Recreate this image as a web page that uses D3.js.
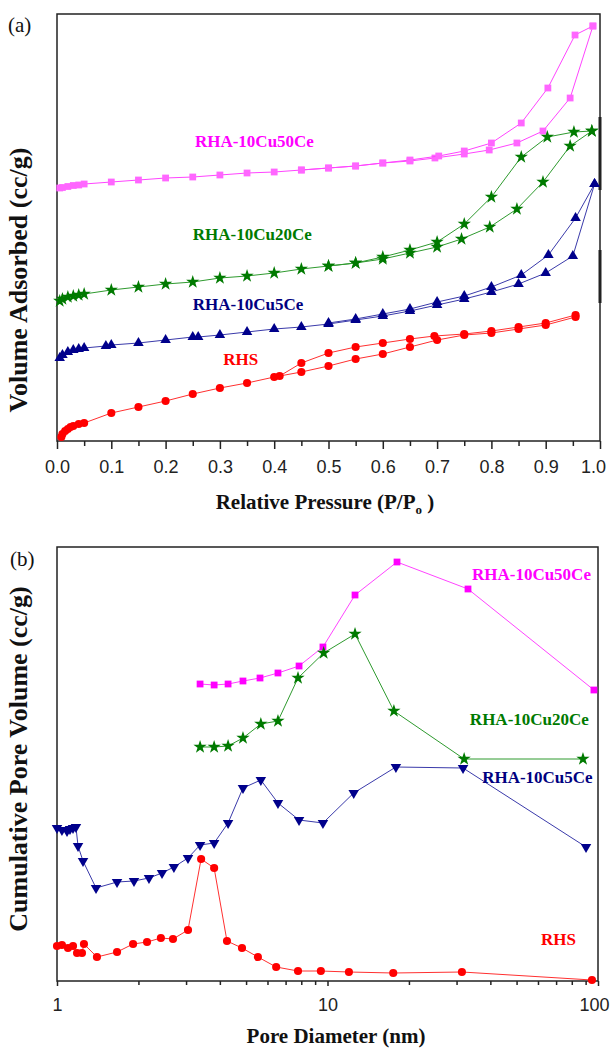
<!DOCTYPE html>
<html>
<head>
<meta charset="utf-8">
<script src="https://cdn.jsdelivr.net/npm/d3@7"></script>
<style>
    body { margin: 0; background: #fff; }
    text { font-family: "Liberation Serif", "Times New Roman", serif; }
    .tick text { font-family: "Liberation Sans", Arial, sans-serif; font-size: 18px; fill: #222; }
</style>
</head>
<body>
<div id="chart"></div>
<script>
// ---- panel (a): N2 isotherms, arbitrary offset units (no y ticks in the original) ----
let pAds50 = [0.005, 0.01, 0.02, 0.03, 0.04, 0.05, 0.1, 0.15, 0.2, 0.25, 0.3, 0.35, 0.4, 0.45, 0.5, 0.55, 0.6, 0.65, 0.696, 0.75, 0.796, 0.847, 0.895, 0.945, 0.987];
let vAds50 = [253, 253.5, 254.5, 255.5, 256, 257, 259, 261, 263, 264, 266, 268, 269, 271, 273, 275, 278, 280, 283, 287, 291, 298, 310, 343, 415];
let pDes50 = [0.987, 0.954, 0.904, 0.855, 0.80, 0.75, 0.703, 0.65, 0.6, 0.55, 0.5, 0.45];
let vDes50 = [415, 406, 353, 318, 298, 290, 285, 281, 278, 275, 273, 271];

let pAds20 = [0.005, 0.01, 0.02, 0.03, 0.04, 0.05, 0.1, 0.15, 0.2, 0.25, 0.3, 0.35, 0.4, 0.45, 0.5, 0.55, 0.6, 0.65, 0.7, 0.745, 0.797, 0.847, 0.895, 0.945, 0.985];
let vAds20 = [140, 142, 144, 145, 146, 147, 151, 154, 157, 159, 163, 165, 168, 172, 175, 178, 182, 188, 194, 202, 214, 232, 259, 295, 310];
let pDes20 = [0.985, 0.952, 0.903, 0.855, 0.80, 0.75, 0.70, 0.65, 0.6, 0.55, 0.5];
let vDes20 = [310, 309, 304, 284, 244, 217, 199, 191, 184, 178, 175];

let pAds5 = [0.005, 0.01, 0.02, 0.03, 0.04, 0.05, 0.09, 0.1, 0.15, 0.2, 0.25, 0.26, 0.3, 0.35, 0.4, 0.45, 0.5, 0.55, 0.6, 0.65, 0.7, 0.75, 0.8, 0.85, 0.9, 0.95, 0.99];
let vAds5 = [83, 86, 89, 91, 92, 93, 95, 96, 98, 101, 104, 104, 106, 109, 112, 114, 117, 121, 125, 130, 136, 142, 149, 157, 168, 185, 257];
let pDes5 = [0.99, 0.955, 0.905, 0.855, 0.8, 0.75, 0.7, 0.65, 0.6, 0.55, 0.5];
let vDes5 = [257, 223, 186, 166, 154, 145, 139, 132, 127, 122, 118];

let pAdsRHS = [0.008, 0.01, 0.015, 0.02, 0.025, 0.03, 0.04, 0.05, 0.1, 0.15, 0.2, 0.25, 0.3, 0.35, 0.4, 0.45, 0.5, 0.55, 0.6, 0.65, 0.7, 0.75, 0.8, 0.85, 0.9, 0.955];
let vAdsRHS = [4, 7, 10, 12, 14, 15, 17, 18, 28, 34, 40, 47, 53, 58, 64, 69, 75, 82, 87, 94, 101, 106, 108, 112, 116, 124];
let pDesRHS = [0.955, 0.9, 0.85, 0.8, 0.75, 0.695, 0.65, 0.6, 0.55, 0.5, 0.45, 0.41];
let vDesRHS = [126, 118, 114, 110, 107, 105, 102, 98, 94, 88, 78, 65];

let xTicksA = [0, 0.1, 0.2, 0.3, 0.4, 0.5, 0.6, 0.7, 0.8, 0.9, 1.0];

// ---- panel (b): cumulative pore volume vs pore diameter (nm) ----
let d50 = [3.38, 3.81, 4.29, 4.87, 5.63, 6.56, 7.85, 9.62, 12.64, 18.07, 33.07, 96.6];
let cv50 = [297, 296, 297, 300, 303, 308, 315, 334, 386, 419, 392, 291];

let d20 = [3.38, 3.81, 4.29, 4.87, 5.67, 6.56, 7.78, 9.68, 12.64, 17.6, 32.0, 88.0];
let cv20 = [234, 234, 235, 243, 257, 260, 303, 328, 347, 270, 222, 222];

let d5 = [1.0, 1.043, 1.089, 1.117, 1.146, 1.175, 1.196, 1.248, 1.394, 1.667, 1.926, 2.188, 2.445, 2.705, 3.05, 3.38, 3.81, 4.29, 4.87, 5.67, 6.56, 7.85, 9.62, 12.5, 17.9, 31.7, 90.3];
let cv5 = [153, 151, 150, 152, 153, 154, 135, 120, 93, 99, 100, 103, 108, 114, 123, 136, 138, 158, 193, 201, 178, 161, 158, 188, 214, 213, 134];

let dRHS = [1.0, 1.043, 1.098, 1.146, 1.186, 1.237, 1.258, 1.405, 1.667, 1.911, 2.152, 2.421, 2.684, 3.05, 3.41, 3.81, 4.25, 4.83, 5.53, 6.46, 7.78, 9.45, 12.0, 17.5, 31.4, 95];
let cvRHS = [35, 36, 33, 35, 28, 28, 37, 24, 29, 37, 39, 43, 42, 51, 122, 113, 40, 33, 24, 14, 10, 10, 9, 8, 9, 1];

let xTicksB = [1, 10, 100];
let xMinorB = [2, 3, 4, 5, 6, 7, 8, 9, 20, 30, 40, 50, 60, 70, 80, 90];

let sampleNames = ["RHA-10Cu50Ce", "RHA-10Cu20Ce", "RHA-10Cu5Ce", "RHS"];

function zip(xs, ys) { return xs.map((x, i) => [x, ys[i]]); }

let svg = d3.select("#chart").append("svg")
    .attr("width", 612)
    .attr("height", 1049);

svg.append("rect").attr("width", 612).attr("height", 1049).style("fill", "#fff");

// marker helpers
let shapes = {
    square: d3.symbol().type(d3.symbolSquare).size(46),
    star: d3.symbol().type(d3.symbolStar).size(55),
    up: d3.symbol().type(d3.symbolTriangle).size(48),
    down: d3.symbol().type(d3.symbolTriangle).size(48),
    circle: d3.symbol().type(d3.symbolCircle).size(52)
};

function drawSeries(g, x, y, pts, color, lineColor, shape) {
    let line = d3.line().x(d => x(d[0])).y(d => y(d[1]));
    g.append("path")
        .datum(pts)
        .attr("d", line)
        .style("fill", "none")
        .style("stroke", lineColor)
        .style("stroke-width", 1);
    g.selectAll(null)
        .data(pts)
        .enter()
        .append("path")
        .attr("d", shapes[shape]())
        .attr("transform", d => "translate(" + x(d[0]) + "," + y(d[1]) + ")" + (shape === "down" ? " rotate(180)" : ""))
        .style("fill", color);
}

function frame(g, x0, x1, y0, y1) {
    g.append("rect")
        .attr("x", x0).attr("y", y1)
        .attr("width", x1 - x0).attr("height", y0 - y1)
        .style("fill", "none")
        .style("stroke", "#222")
        .style("stroke-width", 1.5);
}

// ================= (a) =================
let xA = d3.scaleLinear().domain([0, 1]).range([57, 600]);
let yA = d3.scaleLinear().domain([0, 427]).range([441, 14]);
let gA = svg.append("g");

frame(gA, 57, 600, 441, 14);
// darker bits on the right border, as in the scan
gA.append("line").attr("x1", 600).attr("x2", 600).attr("y1", 117).attr("y2", 190).style("stroke", "#222").style("stroke-width", 3);
gA.append("line").attr("x1", 600).attr("x2", 600).attr("y1", 250).attr("y2", 303).style("stroke", "#222").style("stroke-width", 3);

gA.append("g")
    .attr("transform", "translate(0,441)")
    .call(d3.axisBottom(xA).tickValues(d3.range(0.05, 1, 0.1)).tickSize(5).tickFormat(""))
    .call(g => g.select(".domain").remove())
    .selectAll("line").style("stroke", "#222").style("stroke-width", 1.5);

gA.append("g")
    .attr("transform", "translate(0,441)")
    .call(d3.axisBottom(xA).tickValues(xTicksA).tickSize(8).tickPadding(11).tickFormat(d3.format(".1f")))
    .call(g => g.select(".domain").remove())
    .call(g => g.selectAll("line").style("stroke", "#222").style("stroke-width", 1.5))
    .call(g => g.selectAll("text").filter(d => d === 1).attr("dx", -7));

let isoA = [
    [pAds50, vAds50, pDes50, vDes50, "#ff66ff", "#ff44ff", "square"],
    [pAds20, vAds20, pDes20, vDes20, "#007a00", "#2e9a2e", "star"],
    [pAds5, vAds5, pDes5, vDes5, "#00008b", "#3a3aaa", "up"],
    [pAdsRHS, vAdsRHS, pDesRHS, vDesRHS, "#ff0000", "#ff3030", "circle"]
];
isoA.forEach(s => {
    drawSeries(gA, xA, yA, zip(s[0], s[1]), s[4], s[5], s[6]);
    drawSeries(gA, xA, yA, zip(s[2], s[3]), s[4], s[5], s[6]);
});

let labelColors = ["#ff00ff", "#007a00", "#000080", "#ff0000"];
let labelPosA = [[0.254, 294], [0.250, 201], [0.250, 131], [0.306, 76]];
gA.selectAll(".seriesLabelA")
    .data(sampleNames)
    .enter()
    .append("text")
    .attr("class", "seriesLabelA")
    .attr("x", (d, i) => xA(labelPosA[i][0]))
    .attr("y", (d, i) => yA(labelPosA[i][1]))
    .text(d => d)
    .style("font-size", "17px")
    .style("font-weight", "bold")
    .style("fill", (d, i) => labelColors[i]);

svg.append("text").attr("x", 8).attr("y", 32).text("(a)").style("font-size", "21px").style("fill", "#111");

svg.append("text")
    .attr("transform", "translate(27,280) rotate(-90)")
    .attr("text-anchor", "middle")
    .text("Volume Adsorbed (cc/g)")
    .style("font-size", "26px")
    .style("font-weight", "bold")
    .style("fill", "#111");

let xTitleA = svg.append("text")
    .attr("x", 325).attr("y", 509)
    .attr("text-anchor", "middle")
    .style("font-size", "21px")
    .style("font-weight", "bold")
    .style("fill", "#111");
xTitleA.append("tspan").text("Relative Pressure (P/P");
xTitleA.append("tspan").text("o").attr("dy", 5).style("font-size", "13px");
xTitleA.append("tspan").text(" )").attr("dy", -5);

// ================= (b) =================
let xB = d3.scaleLog().domain([1, 100]).range([57, 598]);
let yB = d3.scaleLinear().domain([0, 434]).range([981, 547]);
let gB = svg.append("g");

frame(gB, 57, 598, 981, 547);

gB.append("g")
    .attr("transform", "translate(0,981)")
    .call(d3.axisBottom(xB).tickValues(xMinorB).tickSize(4).tickFormat(""))
    .call(g => g.select(".domain").remove())
    .selectAll("line").style("stroke", "#222").style("stroke-width", 1.5);

gB.append("g")
    .attr("transform", "translate(0,981)")
    .call(d3.axisBottom(xB).tickValues(xTicksB).tickSize(5).tickPadding(12).tickFormat(d3.format("d")))
    .call(g => g.select(".domain").remove())
    .call(g => g.selectAll("line").style("stroke", "#222").style("stroke-width", 1.5))
    .call(g => g.selectAll("text").filter(d => d === 100).attr("dx", -4));

let poreB = [
    [d50, cv50, "#ff00ff", "#ff44ff", "square"],
    [d20, cv20, "#007a00", "#2e9a2e", "star"],
    [d5, cv5, "#00008b", "#3a3aaa", "down"],
    [dRHS, cvRHS, "#ff0000", "#ff3030", "circle"]
];
poreB.forEach(s => drawSeries(gB, xB, yB, zip(s[0], s[1]), s[2], s[3], s[4]));

let labelPosB = [[34.2, 401], [33.6, 256], [37.3, 198], [61.5, 36]];
gB.selectAll(".seriesLabelB")
    .data(sampleNames)
    .enter()
    .append("text")
    .attr("class", "seriesLabelB")
    .attr("x", (d, i) => xB(labelPosB[i][0]))
    .attr("y", (d, i) => yB(labelPosB[i][1]))
    .text(d => d)
    .style("font-size", "17px")
    .style("font-weight", "bold")
    .style("fill", (d, i) => labelColors[i]);

svg.append("text").attr("x", 10).attr("y", 566).text("(b)").style("font-size", "21px").style("fill", "#111");

svg.append("text")
    .attr("transform", "translate(27,759) rotate(-90)")
    .attr("text-anchor", "middle")
    .text("Cumulative Pore Volume (cc/g)")
    .style("font-size", "26px")
    .style("font-weight", "bold")
    .style("fill", "#111");

svg.append("text")
    .attr("x", 336).attr("y", 1043)
    .attr("text-anchor", "middle")
    .text("Pore Diameter (nm)")
    .style("font-size", "21px")
    .style("font-weight", "bold")
    .style("fill", "#111");
</script>
</body>
</html>
